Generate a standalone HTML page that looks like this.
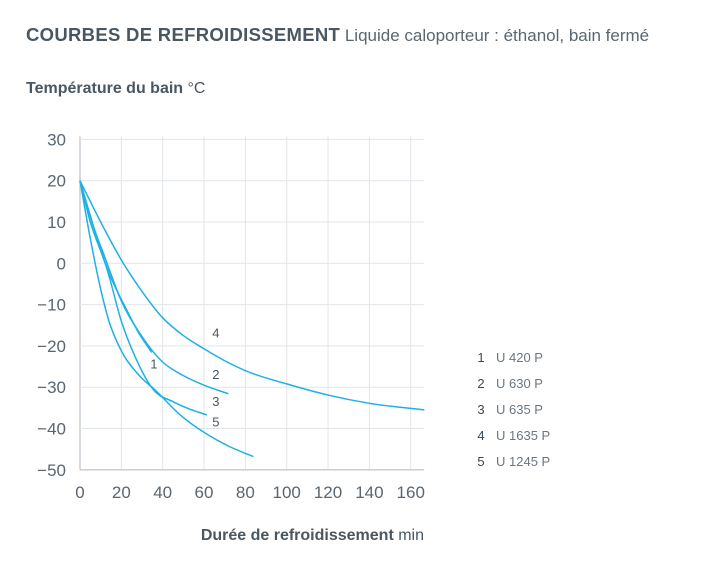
<!DOCTYPE html>
<html><head><meta charset="utf-8"><style>
body{margin:0;background:#fff;width:720px;height:572px;overflow:hidden;font-family:"Liberation Sans",sans-serif;}
svg text{font-family:"Liberation Sans",sans-serif;}
</style></head><body>
<svg id="c" width="720" height="572">
<text x="26" y="41" font-size="18.5" fill="#4a5761"><tspan font-weight="bold" letter-spacing="0.3">COURBES DE REFROIDISSEMENT</tspan><tspan font-size="17" fill="#5a6670"> Liquide caloporteur : éthanol, bain fermé</tspan></text>
<text x="26" y="93" font-size="16" fill="#4a5761"><tspan font-weight="bold">Température du bain</tspan> °C</text>
<text x="424" y="540" font-size="16" fill="#4a5761" text-anchor="end"><tspan font-weight="bold">Durée de refroidissement</tspan> min</text>
<g id="grid"></g><g id="series"></g><g id="labels"></g><g id="legend"></g>
</svg>
<script>
const xTicks=[0,20,40,60,80,100,120,140,160];
const yTicks=[30,20,10,0,-10,-20,-30,-40,-50];
const names=["1","2","3","4","5"];
const models=["U 420 P","U 630 P","U 635 P","U 1635 P","U 1245 P"];
const s1x=[0,5,10,15,22.6,28,34.7];
const s1y=[20,10,3,-3.5,-11.3,-16.5,-21.6];
const s2x=[0,6.5,12,19.8,29,40,50,60,71.8];
const s2y=[20,8.9,1.5,-8.9,-17,-23.9,-27.2,-29.5,-31.6];
const s3x=[0,8,14,19.8,27,35.5,45,53,61.3];
const s3y=[20,6.5,-3,-13.7,-23,-30.6,-33.5,-35.3,-36.7];
const s4x=[0,10,20,30,40,50,60,70,80,100,120,140,166.6];
const s4y=[20,10,0.8,-6.8,-13.2,-17.5,-20.7,-23.6,-26,-29.2,-31.9,-33.9,-35.5];
const s5x=[0,4.8,9.7,14,19.8,28,37,48,60.5,72,83.9];
const s5y=[20,6.5,-5.6,-14,-21,-26.8,-31,-36.5,-41.1,-44.3,-46.8];
const seriesX=[s1x,s2x,s3x,s4x,s5x],seriesY=[s1y,s2y,s3y,s4y,s5y];
const labX=[34,64,64,64,64],labY=[-25.5,-28,-34.5,-18,-39.5];
const X=v=>80+v*2.067, Y=v=>180.7-(v-20)*4.13;
const NS="http://www.w3.org/2000/svg";
function mk(t,a,p){const e=document.createElementNS(NS,t);for(const k in a)e.setAttribute(k,a[k]);p.appendChild(e);return e;}
function monoPath(xs,ys){
 const n=xs.length,px=xs.map(X),py=ys.map(Y),d=[],m=[];
 for(let i=0;i<n-1;i++)d.push((py[i+1]-py[i])/(px[i+1]-px[i]));
 m[0]=d[0];m[n-1]=d[n-2];
 for(let i=1;i<n-1;i++){m[i]=d[i-1]*d[i]<=0?0:(d[i-1]*(px[i+1]-px[i])+d[i]*(px[i]-px[i-1]))/(px[i+1]-px[i-1]);}
 let s='M'+px[0]+','+py[0];
 for(let i=0;i<n-1;i++){const h=(px[i+1]-px[i])/3;
  s+=' C'+(px[i]+h)+','+(py[i]+m[i]*h)+' '+(px[i+1]-h)+','+(py[i+1]-m[i+1]*h)+' '+px[i+1]+','+py[i+1];}
 return s;}
const g=document.getElementById('grid');
xTicks.forEach(v=>{
 const l=mk('line',{x1:X(v),x2:X(v),y1:Y(30)-3,y2:Y(-50),stroke:v===0?'#c9ced3':'#e2e5e8','stroke-width':v===0?1.5:1},g);
 
 
 const t=mk('text',{x:X(v),y:498,'font-size':17,fill:'#5a6670','text-anchor':'middle'},g);t.textContent=v;
 
 
});
yTicks.forEach(v=>{
 const l=mk('line',{x1:X(0),x2:X(166.5),y1:Y(v),y2:Y(v),stroke:v===-50?'#c9ced3':'#e2e5e8','stroke-width':v===-50?1.5:1},g);
 
 
 const t=mk('text',{x:66,y:Y(v)+6,'font-size':17,fill:'#5a6670','text-anchor':'end'},g);t.textContent=(v<0?'\u2212'+(-v):v);
 
 
});
const sg=document.getElementById('series');
seriesX.forEach((xs,i)=>{
 const e=mk('path',{d:monoPath(xs,seriesY[i]),fill:'none',stroke:'#1fb0e6','stroke-width':1.5},sg);
 
 
 const t=mk('text',{x:X(labX[i]),y:Y(labY[i]),'font-size':13,fill:'#4a5761'},document.getElementById('labels'));t.textContent=names[i];
 
 
 const lg=mk('g',{},document.getElementById('legend'));
 
 
 const a=mk('text',{x:481,y:362+i*26,'font-size':13,fill:'#3a4650','text-anchor':'middle'},lg);a.textContent=names[i];
 const b=mk('text',{x:496,y:362+i*26,'font-size':13,fill:'#6a7680'},lg);b.textContent=models[i];
});
</script>
</body></html>
